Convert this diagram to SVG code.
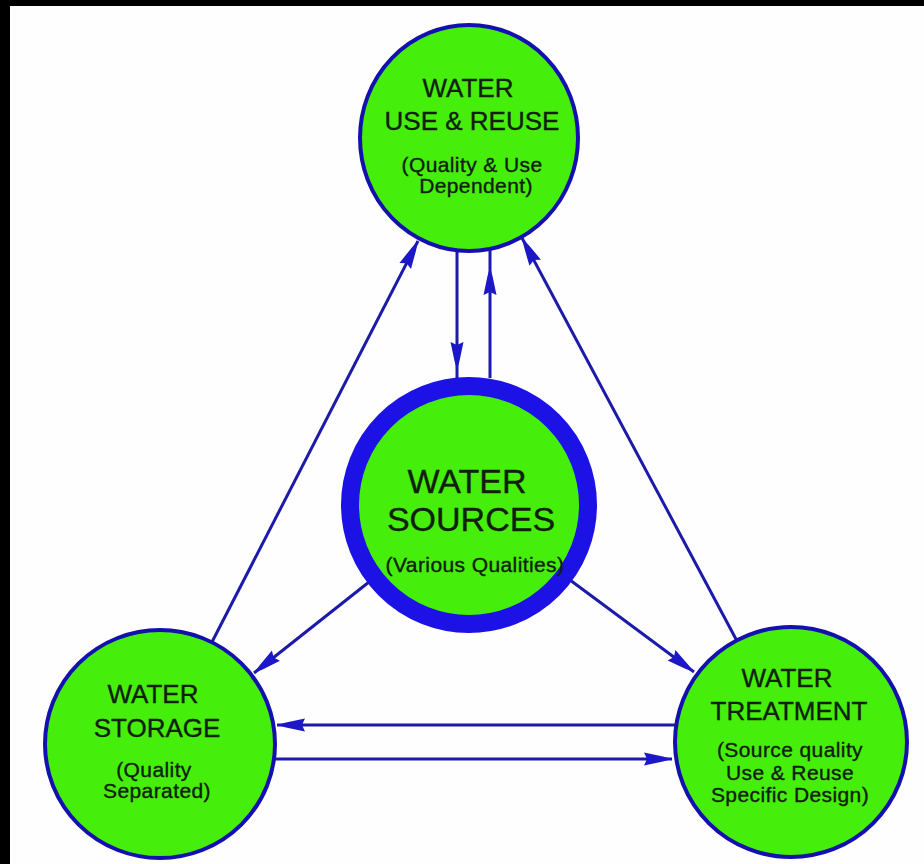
<svg xmlns="http://www.w3.org/2000/svg" width="924" height="864" viewBox="0 0 924 864">
  <defs>
    <!-- narrow barbed arrowhead shared by all connectors -->
    <marker id="arrow" markerUnits="userSpaceOnUse" markerWidth="34" markerHeight="18" viewBox="-30 -9 34 18" refX="0" refY="0" orient="auto">
      <path d="M0,0 L-9,-2.5 L-28,-6.5 L-25,0 L-28,6.5 L-9,2.5 Z" fill="#1c18c8"/>
    </marker>
    <style>
      .node { fill: #46ee0c; stroke: #1410b0; stroke-width: 4; }
      .hub { fill: #46ee0c; stroke: #1c12e6; stroke-width: 18; }
      .link { fill: none; stroke: #1c1aa8; stroke-width: 3; }
      .t { font-family: "Liberation Sans", Arial, sans-serif; fill: #10200c; stroke: #10200c; stroke-width: 0.35; text-anchor: middle; }
      .big { font-size: 26px; }
      .huge { font-size: 34px; }
      .small { font-size: 21px; letter-spacing: 0.4px; }
    </style>
  </defs>

  <!-- frame -->
  <rect x="0" y="0" width="924" height="864" fill="#000"/>
  <rect x="10" y="6" width="914" height="858" fill="#fefefe"/>

  <!-- connectors -->
  <g id="connectors">
    <!-- use & reuse <-> sources -->
    <path class="link" d="M457,250 L457,370 L457,379" marker-mid="url(#arrow)"/>
    <path class="link" d="M490,378 L490,267 L490,249" marker-mid="url(#arrow)"/>
    <!-- storage -> use & reuse -->
    <path class="link" d="M212,642 L418,241" marker-end="url(#arrow)"/>
    <!-- treatment -> use & reuse -->
    <path class="link" d="M737,641 L522,238" marker-end="url(#arrow)"/>
    <!-- sources -> storage / treatment -->
    <path class="link" d="M369,582 L254,673" marker-end="url(#arrow)"/>
    <path class="link" d="M570,580 L694,672" marker-end="url(#arrow)"/>
    <!-- treatment <-> storage -->
    <path class="link" d="M677,725 L277,725" marker-end="url(#arrow)"/>
    <path class="link" d="M274,759 L672,759" marker-end="url(#arrow)"/>
  </g>

  <g id="use-reuse">
    <ellipse class="node" cx="469" cy="138" rx="109" ry="113"/>
    <text class="t big" x="468" y="97">WATER</text>
    <text class="t big" x="472" y="130">USE &amp; REUSE</text>
    <text class="t small" x="472" y="172">(Quality &amp; Use</text>
    <text class="t small" x="476" y="193">Dependent)</text>
  </g>

  <g id="sources">
    <circle class="hub" cx="469" cy="505" r="119"/>
    <text class="t huge" x="467" y="493">WATER</text>
    <text class="t huge" x="471" y="531">SOURCES</text>
    <text class="t small" x="475" y="572">(Various Qualities)</text>
  </g>

  <g id="storage">
    <ellipse class="node" cx="160" cy="744" rx="115" ry="114"/>
    <text class="t big" x="153" y="703">WATER</text>
    <text class="t big" x="157" y="737">STORAGE</text>
    <text class="t small" x="154" y="777">(Quality</text>
    <text class="t small" x="157" y="798">Separated)</text>
  </g>

  <g id="treatment">
    <ellipse class="node" cx="791" cy="742" rx="116" ry="115"/>
    <text class="t big" x="787" y="687">WATER</text>
    <text class="t big" x="789" y="720">TREATMENT</text>
    <text class="t small" x="790" y="757">(Source quality</text>
    <text class="t small" x="790" y="780">Use &amp; Reuse</text>
    <text class="t small" x="790" y="802">Specific Design)</text>
  </g>
</svg>
